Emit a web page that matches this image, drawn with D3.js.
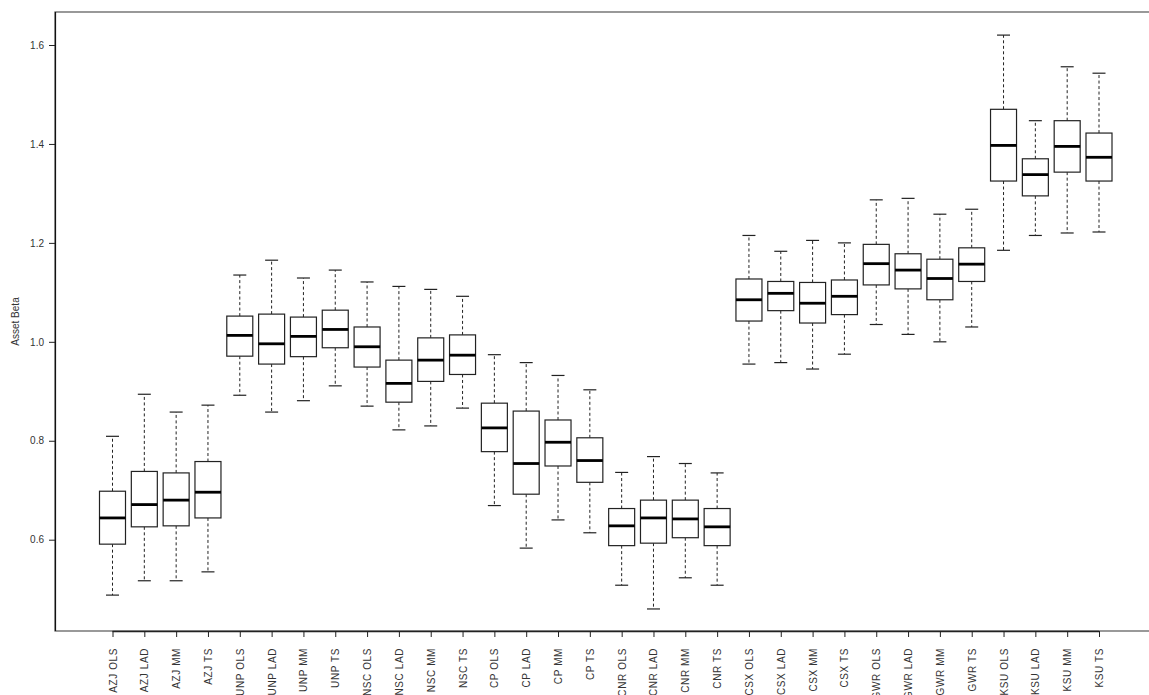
<!DOCTYPE html>
<html>
<head>
<meta charset="utf-8">
<script src="https://cdn.jsdelivr.net/npm/d3@7/dist/d3.min.js"></script>
<style>
  html, body { margin: 0; padding: 0; background: #fff; }
  svg { display: block; }
  text { font-family: "Liberation Sans", Arial, sans-serif; }
</style>
</head>
<body>
<svg id="chart" width="1149" height="695"></svg>
<script>
// Asset beta estimates by railway and estimator
const categories = [
  "AZJ OLS","AZJ LAD","AZJ MM","AZJ TS",
  "UNP OLS","UNP LAD","UNP MM","UNP TS",
  "NSC OLS","NSC LAD","NSC MM","NSC TS",
  "CP OLS","CP LAD","CP MM","CP TS",
  "CNR OLS","CNR LAD","CNR MM","CNR TS",
  "CSX OLS","CSX LAD","CSX MM","CSX TS",
  "GWR OLS","GWR LAD","GWR MM","GWR TS",
  "KSU OLS","KSU LAD","KSU MM","KSU TS"
];
// five-number summaries: lower whisker, Q1, median, Q3, upper whisker
const whiskerLow = [0.488,0.517,0.517,0.535, 0.892,0.858,0.881,0.911, 0.870,0.822,0.830,0.866, 0.669,0.583,0.640,0.614, 0.508,0.460,0.523,0.508, 0.955,0.958,0.945,0.975, 1.035,1.015,1.000,1.030, 1.185,1.215,1.220,1.222];
const q1         = [0.591,0.626,0.628,0.644, 0.971,0.955,0.970,0.988, 0.949,0.878,0.920,0.934, 0.778,0.692,0.749,0.716, 0.588,0.593,0.604,0.588, 1.042,1.063,1.038,1.055, 1.115,1.107,1.085,1.122, 1.325,1.295,1.343,1.325];
const median     = [0.644,0.671,0.680,0.696, 1.013,0.996,1.011,1.025, 0.990,0.916,0.963,0.973, 0.826,0.754,0.797,0.760, 0.628,0.644,0.642,0.626, 1.085,1.098,1.078,1.092, 1.158,1.145,1.128,1.157, 1.397,1.338,1.395,1.373];
const q3         = [0.698,0.738,0.735,0.758, 1.052,1.056,1.050,1.064, 1.030,0.963,1.008,1.014, 0.876,0.860,0.842,0.806, 0.663,0.680,0.680,0.663, 1.127,1.122,1.120,1.125, 1.197,1.178,1.167,1.190, 1.470,1.370,1.447,1.422];
const whiskerHigh= [0.809,0.894,0.858,0.872, 1.135,1.165,1.129,1.145, 1.121,1.112,1.106,1.092, 0.974,0.958,0.932,0.903, 0.736,0.768,0.754,0.735, 1.215,1.183,1.205,1.200, 1.287,1.290,1.258,1.268, 1.620,1.447,1.556,1.543];
const yTicks = [0.6, 0.8, 1.0, 1.2, 1.4, 1.6];
const yTitle = "Asset Beta";

const boxes = categories.map((c, i) => ({
  name: c, lo: whiskerLow[i], q1: q1[i], med: median[i], q3: q3[i], hi: whiskerHigh[i]
}));

const svg = d3.select("#chart");
const frame = { left: 55, top: 12, right: 1160, bottom: 631 };

const x = d3.scalePoint().domain(categories).range([112.5, 1099]).padding(0);
const y = d3.scaleLinear().domain([0.6, 1.6]).range([539.7, 45]);

const boxW = 26, capW = 13;

// plot frame
svg.append("rect")
  .attr("x", frame.left).attr("y", frame.top)
  .attr("width", frame.right - frame.left).attr("height", frame.bottom - frame.top)
  .attr("fill", "none").attr("stroke", "#555").attr("stroke-width", 1.2);

const g = svg.append("g");

const bx = g.selectAll("g.box").data(boxes).join("g")
  .attr("class", "box")
  .attr("transform", d => `translate(${x(d.name)},0)`);

// whiskers
bx.append("line")
  .attr("x1", 0).attr("x2", 0)
  .attr("y1", d => y(d.q3)).attr("y2", d => y(d.hi))
  .attr("stroke", "#222").attr("stroke-width", 1).attr("stroke-dasharray", "3,2.5");
bx.append("line")
  .attr("x1", 0).attr("x2", 0)
  .attr("y1", d => y(d.q1)).attr("y2", d => y(d.lo))
  .attr("stroke", "#222").attr("stroke-width", 1).attr("stroke-dasharray", "3,2.5");
// staples
bx.append("line")
  .attr("x1", -capW / 2).attr("x2", capW / 2)
  .attr("y1", d => y(d.hi)).attr("y2", d => y(d.hi))
  .attr("stroke", "#222").attr("stroke-width", 1.2);
bx.append("line")
  .attr("x1", -capW / 2).attr("x2", capW / 2)
  .attr("y1", d => y(d.lo)).attr("y2", d => y(d.lo))
  .attr("stroke", "#222").attr("stroke-width", 1.2);
// boxes
bx.append("rect")
  .attr("x", -boxW / 2).attr("width", boxW)
  .attr("y", d => y(d.q3)).attr("height", d => y(d.q1) - y(d.q3))
  .attr("fill", "#fff").attr("stroke", "#222").attr("stroke-width", 1.2);
// medians
bx.append("line")
  .attr("x1", -boxW / 2).attr("x2", boxW / 2)
  .attr("y1", d => y(d.med)).attr("y2", d => y(d.med))
  .attr("stroke", "#000").attr("stroke-width", 2.8);

// y axis
const yAxis = svg.append("g")
  .attr("transform", `translate(${frame.left},0)`)
  .call(d3.axisLeft(y).tickValues(yTicks).tickFormat(d3.format(".1f")).tickSize(6).tickPadding(5));
yAxis.select(".domain").attr("stroke", "#111").attr("stroke-width", 1.2)
  .attr("d", `M0.5,${frame.top}V${frame.bottom}`);
yAxis.selectAll(".tick line").attr("stroke", "#222");
yAxis.selectAll(".tick text").attr("font-size", 10).attr("fill", "#333")
  .attr("font-family", "Liberation Sans, Arial, sans-serif");

// x axis
const xAxis = svg.append("g")
  .attr("transform", `translate(0,${frame.bottom})`)
  .call(d3.axisBottom(x).tickSize(6).tickPadding(0));
xAxis.select(".domain").attr("stroke", "#222").attr("stroke-width", 1.6)
  .attr("d", `M${x(categories[0])},0.5H${x(categories[categories.length - 1])}`);
xAxis.selectAll(".tick line").attr("stroke", "#222");
xAxis.selectAll(".tick text")
  .attr("font-size", 10).attr("fill", "#333")
  .attr("font-family", "Liberation Sans, Arial, sans-serif")
  .attr("letter-spacing", "0.6px")
  .attr("text-anchor", "end")
  .attr("dy", null)
  .attr("transform", "translate(3.5,17) rotate(-90)")
  .attr("x", 0).attr("y", 0);

// y title
svg.append("text")
  .attr("transform", `translate(19,${(frame.top + frame.bottom) / 2}) rotate(-90)`)
  .attr("text-anchor", "middle")
  .attr("font-size", 10).attr("fill", "#333")
  .text(yTitle);
</script>
</body>
</html>
